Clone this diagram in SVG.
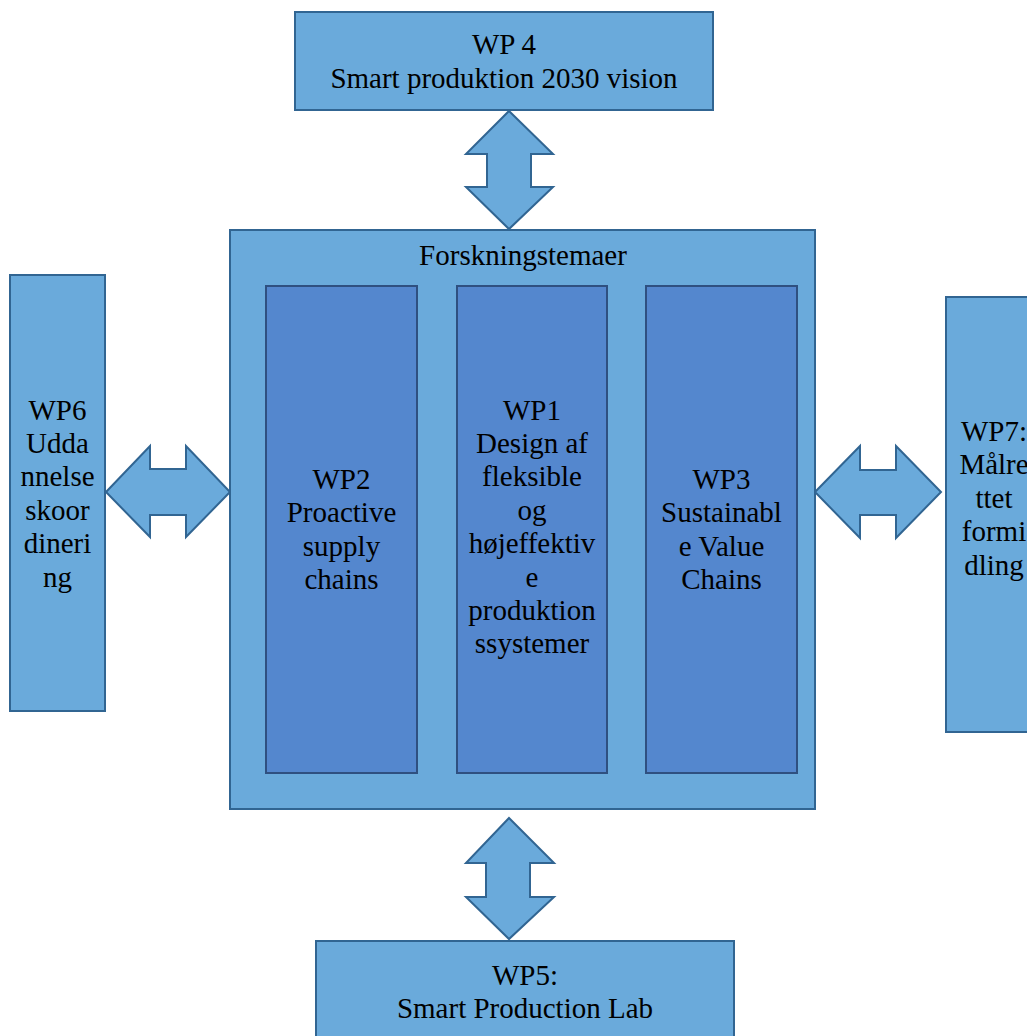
<svg xmlns="http://www.w3.org/2000/svg" width="1027" height="1036" viewBox="0 0 1027 1036">
<style>
.box{fill:#6aaadb;stroke:#316592;stroke-width:2}
.inner{fill:#5487ce;stroke:#2f5080;stroke-width:2}
.arr{fill:#6aaadb;stroke:#316592;stroke-width:2;stroke-linejoin:miter}
text{font-family:"Liberation Serif","Times New Roman",serif;font-size:29px;fill:#000;text-anchor:middle}
</style>
<rect width="1027" height="1036" fill="#fff"/>
<g id="connectors">
<polygon class="arr" points="509,111 553,154 531,154 531,187 553,187 509,229 466,187 487,187 487,154 466,154"/>
<polygon class="arr" points="509,818 554,863 530,863 530,897 554,897 509,939 466,897 486,897 486,863 466,863"/>
<polygon class="arr" points="106,492 150,446 150,469 186,469 186,446 230,492 186,537 186,515 150,515 150,537"/>
<polygon class="arr" points="815,492 860,446 860,470 896,470 896,446 941,492 896,538 896,515 860,515 860,538"/>
</g>
<g id="wp4">
<rect class="box" x="295" y="12" width="418" height="98"/>
<text x="504" y="54">WP 4</text>
<text x="504" y="88">Smart produktion 2030 vision</text>
</g>
<g id="forskning">
<rect class="box" x="230" y="230" width="585" height="579"/>
<text x="523" y="265">Forskningstemaer</text>
</g>
<g id="wp2">
<rect class="inner" x="266" y="286" width="151" height="487"/>
<text x="341.5" y="489">WP2</text>
<text x="341.5" y="522.4">Proactive</text>
<text x="341.5" y="555.8">supply</text>
<text x="341.5" y="589.2">chains</text>
</g>
<g id="wp1">
<rect class="inner" x="457" y="286" width="150" height="487"/>
<text x="532" y="419.5">WP1</text>
<text x="532" y="452.9">Design af</text>
<text x="532" y="486.3">fleksible</text>
<text x="532" y="519.7">og</text>
<text x="532" y="553.1">højeffektiv</text>
<text x="532" y="586.5">e</text>
<text x="532" y="619.9">produktion</text>
<text x="532" y="653.3">ssystemer</text>
</g>
<g id="wp3">
<rect class="inner" x="646" y="286" width="151" height="487"/>
<text x="721.5" y="489">WP3</text>
<text x="721.5" y="522.4">Sustainabl</text>
<text x="721.5" y="555.8">e Value</text>
<text x="721.5" y="589.2">Chains</text>
</g>
<g id="wp6">
<rect class="box" x="10" y="275" width="95" height="436"/>
<text x="57.5" y="419.5">WP6</text>
<text x="57.5" y="452.9">Udda</text>
<text x="57.5" y="486.3">nnelse</text>
<text x="57.5" y="519.7">skoor</text>
<text x="57.5" y="553.1">dineri</text>
<text x="57.5" y="586.5">ng</text>
</g>
<g id="wp7">
<rect class="box" x="946" y="297" width="96" height="435"/>
<text x="994" y="441">WP7:</text>
<text x="994" y="474.4">Målre</text>
<text x="994" y="507.8">ttet</text>
<text x="994" y="541.2">formi</text>
<text x="994" y="574.6">dling</text>
</g>
<g id="wp5">
<rect class="box" x="316" y="941" width="418" height="110"/>
<text x="525" y="985">WP5:</text>
<text x="525" y="1018">Smart Production Lab</text>
</g>
</svg>
